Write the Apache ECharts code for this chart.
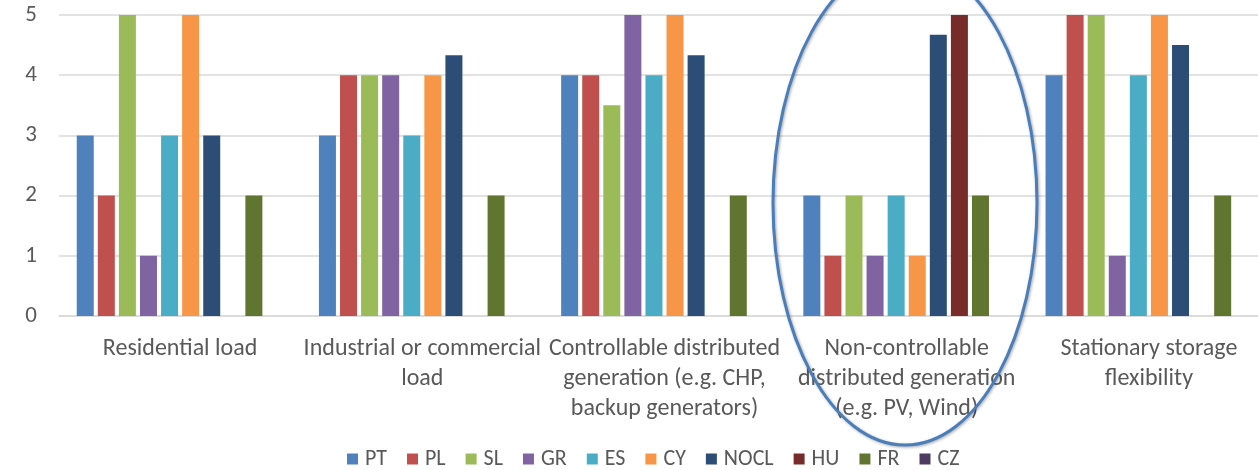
<!DOCTYPE html>
<html>
<head>
<meta charset="utf-8">
<script src="https://cdn.jsdelivr.net/npm/echarts@6/dist/echarts.min.js"></script>
<style>
  html, body { margin: 0; padding: 0; background: #ffffff; overflow: hidden; }
  /* the plot runs slightly past the right edge of the window */
  #chart { width: 1270px; height: 470px; }
</style>
</head>
<body>
<div id="chart"></div>
<script>
// Flexibility sources rated per country (0-5 scale)
const categories = [
  'Residential load',
  'Industrial or commercial\nload',
  'Controllable distributed\ngeneration (e.g. CHP,\nbackup generators)',
  'Non-controllable\ndistributed generation\n(e.g. PV, Wind)',
  'Stationary storage\nflexibility'
];
const countries = ['PT', 'PL', 'SL', 'GR', 'ES', 'CY', 'NOCL', 'HU', 'FR', 'CZ'];
const PT   = [3, 3, 4, 2, 4];
const PL   = [2, 4, 4, 1, 5];
const SL   = [5, 4, 3.5, 2, 5];
const GR   = [1, 4, 5, 1, 1];
const ES   = [3, 3, 4, 2, 4];
const CY   = [5, 4, 5, 1, 5];
const NOCL = [3, 4.33, 4.33, 4.67, 4.5];
const HU   = [0, 0, 0, 5, 0];
const FR   = [2, 2, 2, 2, 2];
const CZ   = [0, 0, 0, 0, 0];
const yTicks = [0, 1, 2, 3, 4, 5];

const seriesValues = [PT, PL, SL, GR, ES, CY, NOCL, HU, FR, CZ];
const palette = ['#4F81BD', '#C0504D', '#9BBB59', '#8064A2', '#4BACC6',
                 '#F79646', '#2C4D75', '#772C2A', '#5F7530', '#4D3B62'];

const FONT = 'Carlito, Lato, "Liberation Sans", sans-serif';
const TEXT = '#595959';

const chart = echarts.init(document.getElementById('chart'), null, { renderer: 'canvas' });

chart.setOption({
  animation: false,
  color: palette,
  textStyle: { fontFamily: FONT },
  grid: { left: 59, right: 0, top: 15, bottom: 154, containLabel: false },
  legend: {
    top: 448,
    left: 347,
    padding: 0,
    icon: 'rect',
    itemWidth: 11,
    itemHeight: 11,
    itemGap: 20,
    textStyle: { fontFamily: FONT, fontSize: 22, color: TEXT, padding: [0, 0, 0, 2] },
    data: countries
  },
  xAxis: {
    type: 'category',
    data: categories,
    axisLine: { show: true, lineStyle: { color: '#d9d9d9', width: 1.5 } },
    axisTick: { show: false },
    axisLabel: {
      interval: 0,
      margin: 18,
      color: TEXT,
      fontFamily: FONT,
      fontSize: 24,
      lineHeight: 30,
      align: 'center'
    }
  },
  yAxis: {
    type: 'value',
    min: yTicks[0],
    max: yTicks[yTicks.length - 1],
    interval: 1,
    axisLine: { show: false },
    axisTick: { show: false },
    splitLine: { lineStyle: { color: '#d9d9d9', width: 1.5 } },
    axisLabel: {
      margin: 22,
      color: TEXT,
      fontFamily: FONT,
      fontSize: 23
    }
  },
  series: countries.map((name, i) => ({
    name: name,
    type: 'bar',
    data: seriesValues[i],
    barWidth: 17,
    barGap: '24%',
    itemStyle: { color: palette[i] }
  })),
  graphic: [{
    type: 'ellipse',
    z: 100,
    shape: { cx: 905, cy: 203, rx: 132, ry: 242 },
    style: {
      fill: null,
      stroke: '#4A7EBB',
      lineWidth: 3,
      shadowBlur: 3,
      shadowColor: 'rgba(0,0,0,0.35)',
      shadowOffsetX: 1,
      shadowOffsetY: 1
    }
  }]
});
</script>
</body>
</html>
